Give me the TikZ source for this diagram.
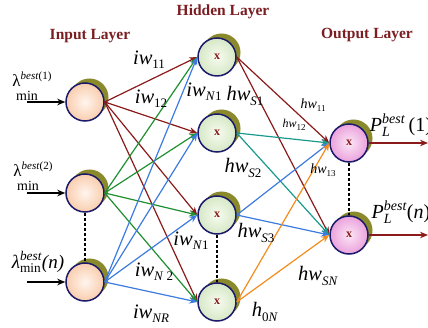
\documentclass[tikz,border=0pt]{standalone}
\usepackage{fontspec}
\usepackage{amsmath}
\setmainfont{Liberation Serif}
\usetikzlibrary{arrows.meta,calc,shadows}
\definecolor{dred}{HTML}{8B1A1A}
\definecolor{tred}{HTML}{7A1E22}
\definecolor{navy}{HTML}{1C1A6A}
\definecolor{oliv}{HTML}{8A8A2C}
\definecolor{egreen}{HTML}{1F8F2F}
\definecolor{eblue}{HTML}{3C7BE0}
\definecolor{eteal}{HTML}{1A9A8C}
\definecolor{eorange}{HTML}{F28C1E}
\definecolor{inin}{HTML}{FFF5EE}
\definecolor{inout}{HTML}{F9CDAE}
\definecolor{hdin}{HTML}{F7FBF0}
\definecolor{hdout}{HTML}{D6E8C6}
\definecolor{otin}{HTML}{FCE6F6}
\definecolor{otout}{HTML}{EAA2DC}
\tikzset{
  neuron/.style={circle, draw=navy, line width=1.5pt, minimum size=38pt, inner sep=0pt,
    font=\bfseries\fontsize{12}{12}\selectfont, text=dred,
    general shadow={fill=oliv, shadow xshift=4.5pt, shadow yshift=4.5pt}},
  inp/.style={neuron, shading=radial, inner color=inin, outer color=inout},
  hid/.style={neuron, shading=radial, inner color=hdin, outer color=hdout},
  outp/.style={neuron, shading=radial, inner color=otin, outer color=otout},
  edge/.style={line width=1.2pt, -{Stealth[length=8pt,width=6.5pt]}},
  inarrow/.style={line width=1.6pt, black, -{Stealth[length=8pt,width=6.5pt]}},
  outarrow/.style={line width=1.6pt, dred, -{Stealth[length=8pt,width=6.5pt]}},
  dots/.style={line width=2pt, black, dash pattern=on 3pt off 2pt},
  title/.style={font=\bfseries\fontsize{15.5}{16}\selectfont, text=tred},
  wlab/.style={font=\fontsize{20.5}{20}\selectfont, inner sep=0pt},
  slab/.style={font=\fontsize{14}{14}\selectfont, inner sep=0pt},
  llab/.style={font=\fontsize{14}{14}\selectfont, inner sep=0pt},
}
\newcommand\wl[2]{\textit{#1}\raisebox{-0.45ex}{\fontsize{13}{13}\selectfont #2}}
\newcommand\swl[2]{\textit{#1}\raisebox{-0.45ex}{\fontsize{9}{9}\selectfont #2}}
\newcommand\lam[1]{\fontsize{17}{17}\selectfont λ\raisebox{0.9ex}{\fontsize{11}{11}\selectfont\textit{best}(#1)}}
\begin{document}
\begin{tikzpicture}[x=1pt,y=-1pt]
\useasboundingbox (0,0) rectangle (428,328);
% titles
\node[title] (tin) at (90,36) {Input Layer};
\node[title] (thid) at (223,12) {Hidden Layer};
\node[title] (tout) at (367,35) {Output Layer};
% neurons
\node[inp] (i1) at (85,102) {};
\node[inp] (i2) at (85,193) {};
\node[inp] (i3) at (85,282) {};
\node[hid] (h1) at (217,57) {x};
\node[hid] (h2) at (217,133) {x};
\node[hid] (h3) at (217,215) {x};
\node[hid] (h4) at (217,302) {x};
\node[outp] (o1) at (349,143) {x};
\node[outp] (o2) at (349,235) {x};
% input to hidden
\foreach \h in {h1,h2,h3,h4} \draw[edge,dred] (i1.east) -- (\h.west);
\foreach \h in {h1,h2,h3,h4} \draw[edge,egreen] (i2.east) -- (\h.west);
\foreach \h in {h1,h2,h3,h4} \draw[edge,eblue] (i3.east) -- (\h.west);
% hidden to output
\foreach \o in {o1,o2} \draw[edge,dred] (h1.east) -- (\o.west);
\foreach \o in {o1,o2} \draw[edge,eteal] (h2.east) -- (\o.west);
\foreach \o in {o1,o2} \draw[edge,eblue] (h3.east) -- (\o.west);
\foreach \o in {o1,o2} \draw[edge,eorange] (h4.east) -- (\o.west);
% dotted links
\draw[dots] (i2.south) -- (i3.north);
\draw[dots] (h3.south) -- (h4.north);
\draw[dots] (o1.south) -- (o2.north);
% input arrows
\coordinate (a1) at (27,102);
\coordinate (a2) at (27,193);
\coordinate (a3) at (27,282);
\draw[inarrow] (a1) -- (i1.west);
\draw[inarrow] (a2) -- (i2.west);
\draw[inarrow] (a3) -- (i3.west);
% output arrows
\coordinate (p1) at (428,143);
\coordinate (p2) at (428,235);
\draw[outarrow] (o1.east) -- (p1);
\draw[outarrow] (o2.east) -- (p2);
% input labels
\node[inner sep=0pt] (l1) at (32,79) {\lam{1}};
\node[llab] (m1) at (27,96) {min};
\node[inner sep=0pt] (l2) at (33,169) {\lam{2}};
\node[llab] (m2) at (28,186) {min};
\node[llab] (l3) at (38,262) {\fontsize{19}{19}\selectfont $\textit{λ}^{\textit{best}}_{\text{min}}\textit{(n)}$};
% output labels
\node[inner sep=0pt, font=\fontsize{20}{20}\selectfont] (q1) at (401,125) {$\textit{P}_{\textit{L}}^{\textit{best}}\,\text{(1)}$};
\node[inner sep=0pt, font=\fontsize{20}{20}\selectfont] (q2) at (401,212) {$\textit{P}_{\textit{L}}^{\textit{best}}\text{(\textit{n})}$};
% weight labels
\node[wlab] (w11) at (149,60) {\wl{iw}{11}};
\node[wlab] (w12) at (151,99) {\wl{iw}{12}};
\node[wlab] (wn1a) at (204,92) {\wl{iw}{\textit{N}1}};
\node[wlab] (wn1b) at (191,241) {\wl{iw}{\textit{N}1}};
\node[wlab] (wn2) at (154,272) {\wl{iw}{\textit{N} 2}};
\node[wlab] (wnr) at (151,314) {\wl{iw}{\textit{NR}}};
\node[wlab] (hs1) at (245,96) {\wl{hw}{\textit{S}1}};
\node[wlab] (hs2) at (243,168) {\wl{hw}{\textit{S}2}};
\node[wlab] (hs3) at (256,233) {\wl{hw}{\textit{S}3}};
\node[wlab] (hsn) at (318,276) {\wl{hw}{\textit{SN}}};
\node[wlab] (h0n) at (265,312) {\wl{h}{0\textit{N}}};
\node[slab] (h11) at (313,105) {\swl{hw}{11}};
\node[slab, font=\fontsize{12}{12}\selectfont] (h12) at (294,125) {\swl{hw}{12}};
\node[slab] (h13) at (323,170) {\swl{hw}{13}};
\end{tikzpicture}
\end{document}
